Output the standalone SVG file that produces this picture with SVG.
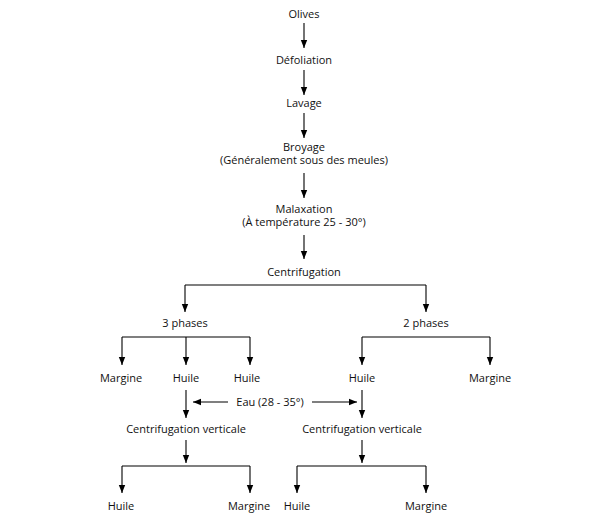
<svg xmlns="http://www.w3.org/2000/svg" width="615" height="524" viewBox="0 0 615 524">
<defs>
<marker id="ah" viewBox="0 0 8 8" refX="8" refY="4" markerWidth="8" markerHeight="8" markerUnits="userSpaceOnUse" orient="auto">
<path d="M0,0.8 L8,4 L0,7.2 Z" fill="#000"/>
</marker>
<style>
text{font-family:"Open Sans","Noto Sans",sans-serif;font-size:11px;fill:#111;text-anchor:middle}
.c{fill:none;stroke:#000;stroke-width:1.1}
.a{marker-end:url(#ah)}
</style>
</defs>
<rect width="615" height="524" fill="#fff"/>
<g id="connectors">
<line class="c a" x1="304" y1="23" x2="304" y2="48"/>
<line class="c a" x1="304" y1="70" x2="304" y2="95"/>
<line class="c a" x1="304" y1="113" x2="304" y2="138"/>
<line class="c a" x1="304" y1="173" x2="304" y2="198"/>
<line class="c a" x1="304" y1="235" x2="304" y2="259"/>
<line class="c" x1="185" y1="285" x2="426" y2="285"/>
<line class="c a" x1="185" y1="285" x2="185" y2="312"/>
<line class="c a" x1="426" y1="285" x2="426" y2="312"/>
<line class="c" x1="122" y1="337" x2="250" y2="337"/>
<line class="c a" x1="122" y1="337" x2="122" y2="365"/>
<line class="c a" x1="186" y1="337" x2="186" y2="365"/>
<line class="c a" x1="250" y1="337" x2="250" y2="365"/>
<line class="c" x1="362" y1="337" x2="490" y2="337"/>
<line class="c a" x1="362" y1="337" x2="362" y2="365"/>
<line class="c a" x1="490" y1="337" x2="490" y2="365"/>
<line class="c a" x1="186" y1="390" x2="186" y2="418"/>
<line class="c a" x1="362" y1="390" x2="362" y2="418"/>
<line class="c a" x1="228" y1="402" x2="193" y2="402"/>
<line class="c a" x1="312" y1="402" x2="357" y2="402"/>
<line class="c a" x1="186" y1="440" x2="186" y2="463"/>
<line class="c a" x1="362" y1="440" x2="362" y2="463"/>
<line class="c" x1="122" y1="466" x2="250" y2="466"/>
<line class="c a" x1="122" y1="466" x2="122" y2="493"/>
<line class="c a" x1="250" y1="466" x2="250" y2="493"/>
<line class="c" x1="297" y1="466" x2="426" y2="466"/>
<line class="c a" x1="297" y1="466" x2="297" y2="493"/>
<line class="c a" x1="426" y1="466" x2="426" y2="493"/>
</g>
<g id="olives"><text x="304" y="18">Olives</text></g>
<g id="defoliation"><text x="304" y="64">Défoliation</text></g>
<g id="lavage"><text x="304" y="107">Lavage</text></g>
<g id="broyage"><text x="304" y="150.5">Broyage</text><text x="304" y="164">(Généralement sous des meules)</text></g>
<g id="malaxation"><text x="304" y="212.5">Malaxation</text><text x="304" y="226">(À température 25 - 30°)</text></g>
<g id="centrifugation"><text x="304" y="276">Centrifugation</text></g>
<g id="phases3"><text x="185" y="327">3 phases</text></g>
<g id="phases2"><text x="426" y="327">2 phases</text></g>
<g id="margine1"><text x="121" y="382">Margine</text></g>
<g id="huile1"><text x="186" y="382">Huile</text></g>
<g id="huile2"><text x="247" y="382">Huile</text></g>
<g id="huile3"><text x="362" y="382">Huile</text></g>
<g id="margine2"><text x="490" y="382">Margine</text></g>
<g id="eau"><text x="270" y="406">Eau (28 - 35°)</text></g>
<g id="cv1"><text x="186" y="433">Centrifugation verticale</text></g>
<g id="cv2"><text x="362" y="433">Centrifugation verticale</text></g>
<g id="huile4"><text x="121" y="510">Huile</text></g>
<g id="margine3"><text x="249" y="510">Margine</text></g>
<g id="huile5"><text x="297" y="510">Huile</text></g>
<g id="margine4"><text x="426" y="510">Margine</text></g>
</svg>
